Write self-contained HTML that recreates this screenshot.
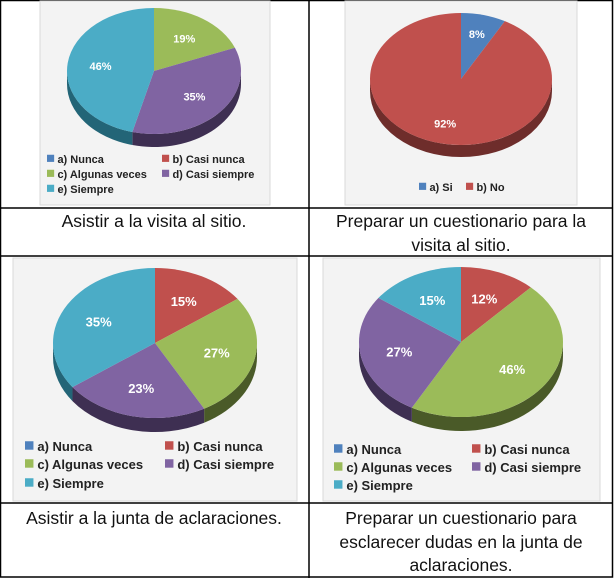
<!DOCTYPE html>
<html><head><meta charset="utf-8">
<style>
html,body{margin:0;padding:0;background:#fff;}
body{width:614px;height:578px;position:relative;overflow:hidden;font-family:"Liberation Sans",sans-serif;}
svg{position:absolute;left:0;top:0;}
</style></head>
<body>
<svg id="s" width="614" height="578" viewBox="0 0 614 578"></svg>
<script>
const NS="http://www.w3.org/2000/svg";
const svg=document.getElementById('s');
// chart data
const labels5=["a) Nunca","b) Casi nunca","c) Algunas veces","d) Casi siempre","e) Siempre"];
const labels2=["a) Si","b) No"];
const values1=[0,0,19,35,46];
const values2=[8,92];
const values3=[0,15,27,23,35];
const values4=[0,12,46,27,15];
const colors5=["#4f81bd","#c0504d","#9bbb59","#8064a2","#4bacc6"];
const darks5=["#2c4a6e","#6e2d2b","#4a5a28","#3e2f52","#236577"];

function el(t,a,p){const e=document.createElementNS(NS,t);for(const k in a)e.setAttribute(k,a[k]);(p||svg).appendChild(e);return e;}

// grid
const bg=el('rect',{x:0.5,y:0.5,width:612,height:576.5,fill:'none',stroke:'#000','stroke-width':1.5});

[[309,0,309,578],[0,208,613,208],[0,256,613,256],[0,503,613,503]].forEach(l=>{
  const e=el('line',{x1:l[0],y1:l[1],x2:l[2],y2:l[3],stroke:'#000','stroke-width':1.5});
  
});

function pie(o){
  const g=el('g',{});
  
  
  const p=el('rect',{x:o.px,y:o.py,width:o.pw,height:o.ph,fill:'#f3f3f3',stroke:'#d9d9d9'},g);
  
  const tot=o.values.reduce((a,b)=>a+b,0);
  const {cx,cy,rx,ry,d}=o;
  const pt=(a,dy)=>[cx+rx*Math.cos(a),cy+ry*Math.sin(a)+(dy||0)];
  let a0=-Math.PI/2;const segs=[];
  o.values.forEach((v,i)=>{const a1=a0+v/tot*2*Math.PI;segs.push([a0,a1,i,v]);a0=a1;});
  segs.forEach(([s,e,i,v])=>{
    if(v<=0)return;
    [[0,Math.PI],[2*Math.PI,3*Math.PI]].forEach(([lo,hi])=>{
      const ss=Math.max(s,lo),ee=Math.min(e,hi);if(ee<=ss)return;
      const A=pt(ss),B=pt(ee),C=pt(ee,d),D=pt(ss,d);
      const side=el('path',{d:`M${A}A${rx},${ry} 0 0 1 ${B}L${C}A${rx},${ry} 0 0 0 ${D}Z`,fill:o.dark[i]},g);
      
    });
  });
  segs.forEach(([s,e,i,v])=>{
    if(v<=0)return;
    const A=pt(s),B=pt(e);const large=(e-s)>Math.PI?1:0;
    const sl=el('path',{d:`M${cx},${cy}L${A}A${rx},${ry} 0 ${large} 1 ${B}Z`,fill:o.colors[i]},g);
    
    
  });
  segs.forEach(([s,e,i,v])=>{
    if(v<=0)return;
    const m=(s+e)/2;const r=o.lr||0.62;
    const t=el('text',{x:cx+rx*r*Math.cos(m),y:cy+ry*r*Math.sin(m)+o.fs*0.35,'text-anchor':'middle','font-size':o.fs,'font-weight':'bold',fill:'#fff'},g);
    t.textContent=v+'%';
    
  });
  o.labels.forEach((lb,i)=>{
    const [x,y]=o.leg[i];
    const sq=el('rect',{x:x,y:y-o.lf*0.75,width:o.lf*0.65,height:o.lf*0.65,fill:o.colors[i]},g);
    
    const t=el('text',{x:x+o.lf*0.95,y:y,'font-size':o.lf,'font-weight':'bold',fill:'#222'},g);
    t.textContent=lb;
    
  });
}

pie({name:'pie-visita-sitio',px:40,py:1,pw:230,ph:204,cx:154,cy:71,rx:87,ry:63,d:13,values:values1,labels:labels5,colors:colors5,dark:darks5,fs:11,lf:11,
  leg:[[47,163],[162,163],[47,178],[162,178],[47,193]]});
pie({name:'pie-cuestionario-visita',px:345,py:1,pw:232,ph:204,cx:461,cy:79,rx:91,ry:66,d:12,values:values2,labels:labels2,colors:[colors5[0],colors5[1]],dark:[darks5[0],darks5[1]],fs:11,lf:11,lr:0.7,
  leg:[[419,191],[466,191]]});
pie({name:'pie-junta-aclaraciones',px:13,py:258,pw:284,ph:243,cx:155,cy:343,rx:102,ry:75,d:14,values:values3,labels:labels5,colors:colors5,dark:darks5,fs:13,lf:13,
  leg:[[25,451],[165,451],[25,469],[165,469],[25,488]]});
pie({name:'pie-cuestionario-junta',px:323,py:258,pw:277,ph:243,cx:461,cy:342,rx:102,ry:75,d:14,values:values4,labels:labels5,colors:colors5,dark:darks5,fs:13,lf:13,
  leg:[[334,454],[472,454],[334,472],[472,472],[334,490]]});

function cap(x,y,txt,n){
  const t=el('text',{x:x,y:y,'text-anchor':'middle','font-size':17.5,fill:'#111'});
  t.textContent=txt;
}
cap(154,227,"Asistir a la visita al sitio.",'caption-visita');
cap(461,227,"Preparar un cuestionario para la",'caption-cuestionario-line1');
cap(461,251,"visita al sitio.",'caption-cuestionario-line2');
cap(154,524,"Asistir a la junta de aclaraciones.",'caption-junta');
cap(461,524,"Preparar un cuestionario para",'caption-dudas-line1');
cap(461,548,"esclarecer dudas en la junta de",'caption-dudas-line2');
cap(461,571,"aclaraciones.",'caption-dudas-line3');
</script>
</body></html>
